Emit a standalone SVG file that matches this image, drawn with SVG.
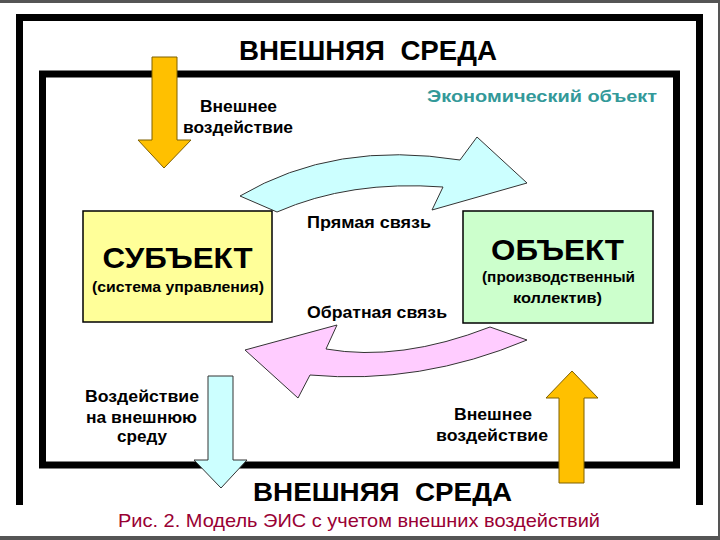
<svg xmlns="http://www.w3.org/2000/svg" width="720" height="540" viewBox="0 0 720 540">
<style>
text{font-family:"Liberation Sans",Arial,sans-serif;font-weight:bold;fill:#000}
.lbl{font-size:16px}
.big{font-size:30px}
.sub{font-size:15px}
.title{font-size:28px}
.frame{fill:none;stroke:#000}
.yel{fill:#FFC000;stroke:#7F6000;stroke-width:1}
.cyan{fill:#CCFFFF;stroke:#333;stroke-width:1}
.pink{fill:#FFCCFF;stroke:#333;stroke-width:1}
</style>
<rect x="0" y="0" width="720" height="540" fill="#fff"/>
<g id="border">
<rect x="0" y="0" width="720" height="3" fill="#555"/>
<rect x="718" y="0" width="2" height="540" fill="#555"/>
<rect x="0" y="536" width="720" height="4" fill="#555"/>
</g>
<g id="outer-frame">
<path class="frame" d="M19.5,505 V17.5 H699.5 V505" stroke-width="7"/>
</g>
<g id="inner-frame">
<rect class="frame" x="42.5" y="74" width="634" height="391" stroke-width="7"/>
</g>
<g id="titles">
<text class="title" x="368" y="60" text-anchor="middle" xml:space="preserve" textLength="258" lengthAdjust="spacingAndGlyphs">ВНЕШНЯЯ  СРЕДА</text>
<text class="title" x="382.5" y="501" text-anchor="middle" xml:space="preserve" style="font-size:26px" textLength="259" lengthAdjust="spacingAndGlyphs">ВНЕШНЯЯ  СРЕДА</text>
<text x="427" y="102" style="font-size:17px;fill:#339999" textLength="230" lengthAdjust="spacingAndGlyphs">Экономический объект</text>
<text x="359" y="527" text-anchor="middle" style="font-size:19px;font-weight:normal;fill:#990033" textLength="482" lengthAdjust="spacingAndGlyphs">Рис. 2. Модель ЭИС с учетом внешних воздействий</text>
</g>
<g id="connectors">
<path id="forward-arrow" class="cyan" d="M240,196 Q335,140 460,160 L477,137 L527,183 L432,210 L443,187 Q350,180 277,212 Z"/>
<path id="feedback-arrow" class="pink" d="M337,325 L326,349 Q400,362 490,327 L527,340 Q420,385 310,375 L298,398 L245,350 Z"/>
<path id="ext-in-top" class="yel" d="M152,57 H177 V140 H191 L164,168 L138,140 H152 Z"/>
<path id="ext-in-bottom" class="yel" d="M559,483 H584 V398 H598 L572,371 L546,398 H559 Z"/>
<path id="ext-out" class="cyan" d="M208,376 H233 V460 H247 L221,488 L194,460 H208 Z"/>
</g>
<g id="subject">
<rect x="83" y="211" width="189" height="111" fill="#FFFF99" stroke="#000" stroke-width="1.5"/>
<text class="big" x="177.5" y="268" text-anchor="middle" textLength="150" lengthAdjust="spacingAndGlyphs">СУБЪЕКТ</text>
<text class="sub" x="178" y="292" text-anchor="middle" textLength="172" lengthAdjust="spacingAndGlyphs">(система управления)</text>
</g>
<g id="object">
<rect x="463" y="211" width="190" height="112" fill="#CCFFCC" stroke="#000" stroke-width="1.5"/>
<text class="big" x="557.5" y="260" text-anchor="middle" textLength="133" lengthAdjust="spacingAndGlyphs">ОБЪЕКТ</text>
<text class="sub" x="558.5" y="282" text-anchor="middle" textLength="153" lengthAdjust="spacingAndGlyphs">(производственный</text>
<text class="sub" x="557.5" y="303" text-anchor="middle" textLength="89" lengthAdjust="spacingAndGlyphs">коллектив)</text>
</g>
<g id="labels">
<text class="lbl" x="238.5" y="112" text-anchor="middle" textLength="77" lengthAdjust="spacingAndGlyphs">Внешнее</text>
<text class="lbl" x="238" y="133" text-anchor="middle" textLength="110" lengthAdjust="spacingAndGlyphs">воздействие</text>
<text class="lbl" x="369" y="228" text-anchor="middle" textLength="124" lengthAdjust="spacingAndGlyphs">Прямая связь</text>
<text class="lbl" x="377" y="318" text-anchor="middle" textLength="140" lengthAdjust="spacingAndGlyphs">Обратная связь</text>
<text class="lbl" x="142" y="402" text-anchor="middle" textLength="114" lengthAdjust="spacingAndGlyphs">Воздействие</text>
<text class="lbl" x="141.5" y="423" text-anchor="middle" textLength="111" lengthAdjust="spacingAndGlyphs">на внешнюю</text>
<text class="lbl" x="142" y="442" text-anchor="middle" textLength="50" lengthAdjust="spacingAndGlyphs">среду</text>
<text class="lbl" x="493" y="420" text-anchor="middle" textLength="78" lengthAdjust="spacingAndGlyphs">Внешнее</text>
<text class="lbl" x="492" y="441" text-anchor="middle" textLength="112" lengthAdjust="spacingAndGlyphs">воздействие</text>
</g>
</svg>
